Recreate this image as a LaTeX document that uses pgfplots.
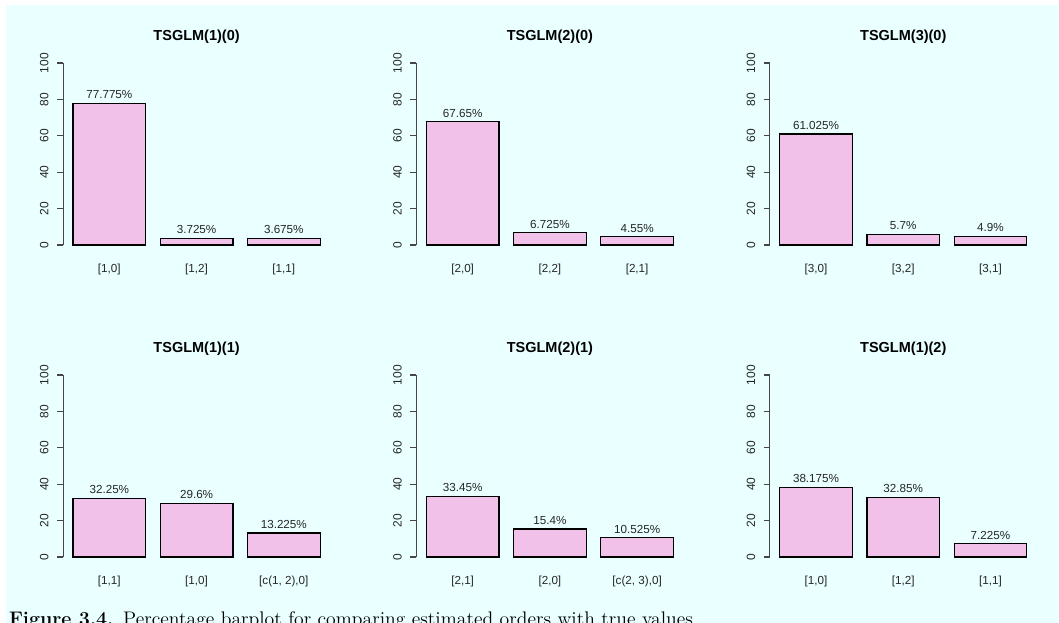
\documentclass[border=0pt]{standalone}
\usepackage{fontspec}
\usepackage{pgfplots}
\pgfplotsset{compat=1.18}
\newfontfamily\arial{Liberation Sans}
\definecolor{bgcyan}{RGB}{234,255,255}
\definecolor{barpink}{RGB}{241,193,233}
\definecolor{axgray}{RGB}{70,70,70}
\pgfplotsset{rbar/.style={
  scale only axis, width=160.17pt, height=117.94pt,
  anchor=south west,
  xmin=0.064, xmax=3.736, ymin=-4, ymax=104,
  axis line style={draw=none},
  /pgf/number format/assume math mode=true,
  ytick={0,20,40,60,80,100},
  xtick={0.7,1.9,3.1},
  major tick length=3.6pt, tick align=outside, ytick pos=left,
  xtick style={draw=none},
  ytick style={axgray, line width=0.7pt},
  yticklabel style={rotate=90, anchor=base, inner sep=0pt, yshift=5.2pt, font=\arial\fontsize{7.2}{8}\selectfont, text=black!85},
  xticklabel style={anchor=north, inner sep=0pt, yshift=-3pt, font=\arial\fontsize{7}{8}\selectfont, text=black!85},
  title style={font=\arial\bfseries\fontsize{8.7}{10}\selectfont, at={(0.5,1)}, anchor=base, yshift=3.3pt, inner sep=0pt},
  nodes near coords, point meta=explicit symbolic,
  nodes near coords style={anchor=south, inner sep=0pt, yshift=2.4pt, font=\arial\fontsize{7}{8}\selectfont, text=black!85},
  clip=false,
}}
\begin{document}
\begin{tikzpicture}
\path[use as bounding box] (0,0) rectangle (635.4pt,373.8pt);
\clip (0,0) rectangle (635.4pt,373.8pt);
\fill[bgcyan] (3.6pt,0) rectangle (635.4pt,370.8pt);

% Panel 1
\begin{axis}[rbar, at={(37.86pt,222.42pt)}, title={TSGLM(1)(0)}, xticklabels={{[1,0]},{[1,2]},{[1,1]}}]
\addplot[ybar, bar width=1, fill=barpink, draw=black, line width=0.7pt] coordinates {(0.7,77.775) [77.775\%] (1.9,3.725) [3.725\%] (3.1,3.675) [3.675\%]};
\draw[axgray, line width=0.7pt] (axis cs:0.064,0) -- (axis cs:0.064,100);
\end{axis}

% Panel 2
\begin{axis}[rbar, at={(249.84pt,222.42pt)}, title={TSGLM(2)(0)}, xticklabels={{[2,0]},{[2,2]},{[2,1]}}]
\addplot[ybar, bar width=1, fill=barpink, draw=black, line width=0.7pt] coordinates {(0.7,67.65) [67.65\%] (1.9,6.725) [6.725\%] (3.1,4.55) [4.55\%]};
\draw[axgray, line width=0.7pt] (axis cs:0.064,0) -- (axis cs:0.064,100);
\end{axis}

% Panel 3
\begin{axis}[rbar, at={(461.88pt,222.42pt)}, title={TSGLM(3)(0)}, xticklabels={{[3,0]},{[3,2]},{[3,1]}}]
\addplot[ybar, bar width=1, fill=barpink, draw=black, line width=0.7pt] coordinates {(0.7,61.025) [61.025\%] (1.9,5.7) [5.7\%] (3.1,4.9) [4.9\%]};
\draw[axgray, line width=0.7pt] (axis cs:0.064,0) -- (axis cs:0.064,100);
\end{axis}

% Panel 4
\begin{axis}[rbar, at={(37.86pt,35.22pt)}, title={TSGLM(1)(1)}, xticklabels={{[1,1]},{[1,0]},{[c(1, 2),0]}}]
\addplot[ybar, bar width=1, fill=barpink, draw=black, line width=0.7pt] coordinates {(0.7,32.25) [32.25\%] (1.9,29.6) [29.6\%] (3.1,13.225) [13.225\%]};
\draw[axgray, line width=0.7pt] (axis cs:0.064,0) -- (axis cs:0.064,100);
\end{axis}

% Panel 5
\begin{axis}[rbar, at={(249.84pt,35.22pt)}, title={TSGLM(2)(1)}, xticklabels={{[2,1]},{[2,0]},{[c(2, 3),0]}}]
\addplot[ybar, bar width=1, fill=barpink, draw=black, line width=0.7pt] coordinates {(0.7,33.45) [33.45\%] (1.9,15.4) [15.4\%] (3.1,10.525) [10.525\%]};
\draw[axgray, line width=0.7pt] (axis cs:0.064,0) -- (axis cs:0.064,100);
\end{axis}

% Panel 6
\begin{axis}[rbar, at={(461.88pt,35.22pt)}, title={TSGLM(1)(2)}, xticklabels={{[1,0]},{[1,2]},{[1,1]}}]
\addplot[ybar, bar width=1, fill=barpink, draw=black, line width=0.7pt] coordinates {(0.7,38.175) [38.175\%] (1.9,32.85) [32.85\%] (3.1,7.225) [7.225\%]};
\draw[axgray, line width=0.7pt] (axis cs:0.064,0) -- (axis cs:0.064,100);
\end{axis}

\node[anchor=base west, inner sep=0pt, font=\fontsize{11.8}{13}\selectfont] at (5.2pt,-1.8pt) {\textbf{Figure 3.4.}\enspace Percentage barplot for comparing estimated orders with true values.};
\end{tikzpicture}
\end{document}
